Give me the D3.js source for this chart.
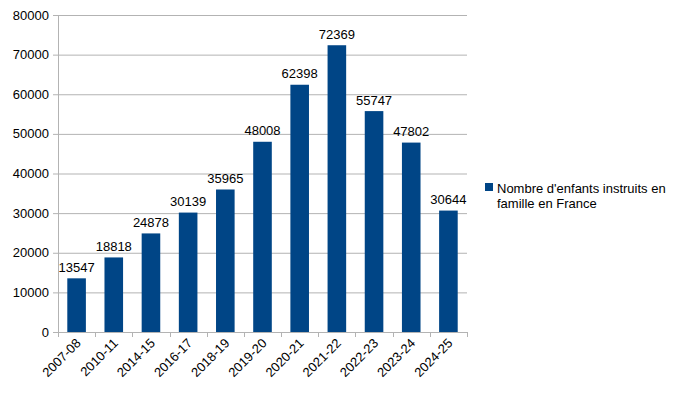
<!DOCTYPE html>
<html><head><meta charset="utf-8">
<script src="https://cdn.jsdelivr.net/npm/d3@7/dist/d3.min.js"></script>
<style>body{margin:0;background:#fff}text{font-family:"Liberation Sans",Arial,sans-serif}</style>
</head><body>
<svg id="c" width="698" height="393"></svg>
<script>
const categories = ["2007-08","2010-11","2014-15","2016-17","2018-19","2019-20","2020-21","2021-22","2022-23","2023-24","2024-25"];
const values = [13547,18818,24878,30139,35965,48008,62398,72369,55747,47802,30644];
const yTicks = [0,10000,20000,30000,40000,50000,60000,70000,80000];
const seriesName = ["Nombre d'enfants instruits en", "famille en France"];

const svg = d3.select("#c");
const L=58, R=467, T=15, B=332;
const x = d3.scaleBand().domain(categories).range([L,R]).paddingInner(0.5).paddingOuter(0.25);
const xb = d3.scaleBand().domain(categories).range([L,R]);
const y = d3.scaleLinear().domain([0,80000]).range([B,T]);
const grid="#b3b3b3";

svg.append("g").selectAll("line").data(yTicks).join("line")
  .attr("x1",L-5).attr("x2",R).attr("y1",d=>y(d)+0.5).attr("y2",d=>y(d)+0.5)
  .attr("stroke",grid).attr("stroke-width",1);
svg.append("line").attr("x1",L+0.5).attr("x2",L+0.5).attr("y1",T).attr("y2",B+5).attr("stroke",grid);
const bounds = categories.map(c=>xb(c)).concat([R]);
svg.append("g").selectAll("line").data(bounds).join("line")
  .attr("x1",d=>Math.round(d)+0.5).attr("x2",d=>Math.round(d)+0.5).attr("y1",B).attr("y2",B+5).attr("stroke",grid);
svg.append("g").selectAll("text").data(yTicks).join("text")
  .attr("x",L-9).attr("y",d=>y(d)+4.5).attr("text-anchor","end").attr("font-size",13).attr("fill","#000").text(d=>d);
svg.append("g").selectAll("rect").data(values).join("rect")
  .attr("x",(d,i)=>x(categories[i])).attr("width",x.bandwidth())
  .attr("y",d=>y(d)).attr("height",d=>B-y(d)).attr("fill","#004586");
svg.append("g").selectAll("text").data(values).join("text")
  .attr("x",(d,i)=>x(categories[i])+x.bandwidth()/2).attr("y",d=>y(d)-6.5)
  .attr("text-anchor","middle").attr("font-size",13).attr("fill","#000").text(d=>d);
svg.append("g").selectAll("text").data(categories).join("text")
  .attr("transform",c=>`translate(${xb(c)+xb.bandwidth()/2+5},${B+12}) rotate(-45)`)
  .attr("text-anchor","end").attr("font-size",13).attr("fill","#000").text(c=>c);
svg.append("rect").attr("x",485).attr("y",183).attr("width",8).attr("height",8).attr("fill","#004586");
svg.append("g").selectAll("text").data(seriesName).join("text")
  .attr("x",497).attr("y",(d,i)=>193+i*14.5).attr("font-size",13).attr("fill","#000").text(d=>d);
</script>
</body></html>
